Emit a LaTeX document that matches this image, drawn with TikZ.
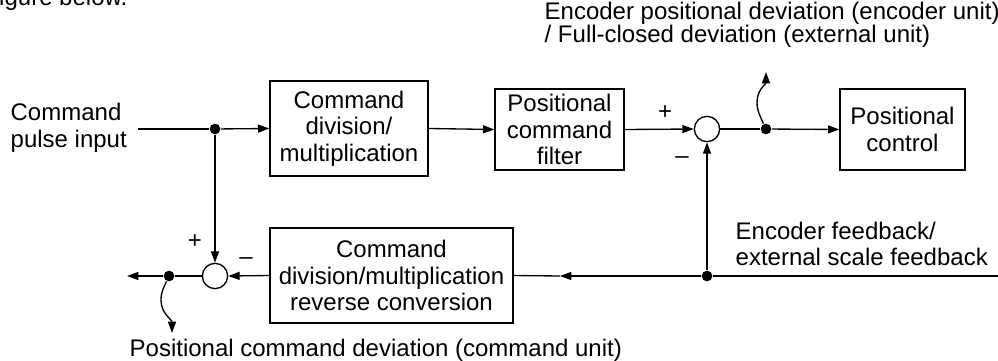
\documentclass[tikz,border=0pt]{standalone}
\usepackage{fontspec}
\setmainfont{Liberation Sans}
\usetikzlibrary{arrows.meta}

\newcommand{\diagfont}{\fontsize{18}{20}\selectfont}
\newcommand{\devfont}{\fontsize{18}{17.5}\selectfont}

\tikzset{
  block/.style={draw, line width=1pt, align=center, inner sep=0pt, font=\diagfont},
  sumnode/.style={draw, circle, line width=1pt, minimum size=19pt, inner sep=0pt},
  junction/.style={circle, fill, minimum size=8pt, inner sep=0pt},
  txt/.style={inner sep=0pt, font=\diagfont},
  sign/.style={inner sep=0pt, font=\diagfont},
}

\begin{document}
\begin{tikzpicture}[x=0.75pt, y=-0.75pt, line width=1pt,
  >={Triangle[length=8.5pt, width=6pt]}]
\useasboundingbox (0,0) rectangle (998,360);
\clip (0,0) rectangle (998,360);

% blocks
\node[block, minimum width=118.5pt, minimum height=71.25pt] (cmddiv) at (349,128.5) {Command\\division/\\multiplication};
\node[block, minimum width=96.75pt, minimum height=60.75pt] (posfilt) at (559.5,129.5) {Positional\\command\\filter};
\node[block, minimum width=93.75pt, minimum height=60.75pt] (posctrl) at (902.5,129.5) {Positional\\control};
\node[block, minimum width=182.25pt, minimum height=71.25pt] (revconv) at (391.5,275.5) {Command\\division/multiplication\\reverse conversion};

% summing points and branch points
\node[sumnode] (sumA) at (707,129) {};
\node[sumnode] (sumB) at (215,276) {};
\node[junction] (jin) at (215,129) {};
\node[junction] (jdev) at (766,129) {};
\node[junction] (jfb) at (707,276) {};
\node[junction] (jout) at (169,276) {};

\coordinate (inp) at (138,129);
\coordinate (fbin) at (1002,276);
\coordinate (fbmark) at (560,276);
\coordinate (outend) at (127,276);
\coordinate (devtip) at (766,72);
\coordinate (outtip) at (172,333);

% texts
\node[txt, anchor=west, align=left] (cmdin) at (10,128) {Command\\pulse input};
\node[txt, anchor=west, align=left, font=\devfont] (devlabel) at (544,25) {Encoder positional deviation (encoder unit)\\/ Full-closed deviation (external unit)};
\node[txt, anchor=west, align=left] (fblabel) at (735,244) {Encoder feedback/\\external scale feedback};
\node[txt, anchor=west] (cmddev) at (129,350) {Positional command deviation (command unit)};
\node[txt, anchor=base east] (figref) at (128,6) {igure below.};

\node[sign] at (665,113) {+};
\node[sign] at (682,160) {–};
\node[sign] at (195,242) {+};
\node[sign] at (246,261) {–};

% forward path
\draw (inp) -- (jin);
\draw[->] (jin) -- (cmddiv.west);
\draw[->] (cmddiv.east) -- (posfilt.west);
\draw[->] (posfilt.east) -- (sumA.west);
\draw (sumA.east) -- (jdev);
\draw[->] (jdev) -- (posctrl.west);
\draw[->] (jdev) to[out=115,in=-90] (757,102) to[out=90,in=-90] (devtip);

% feedback path
\draw (fbin) -- (jfb);
\draw[->] (jfb) -- (sumA.south);
\draw[->] (jfb) -- (fbmark);
\draw (fbmark) -- (revconv.east);
\draw[->] (revconv.west) -- (sumB.east);
\draw[->] (jin) -- (sumB.north);
\draw (sumB.west) -- (jout);
\draw[->] (jout) -- (outend);
\draw[->] (jout) to[out=-115,in=90] (161,300) to[out=-90,in=90] (outtip);
\end{tikzpicture}
\end{document}
